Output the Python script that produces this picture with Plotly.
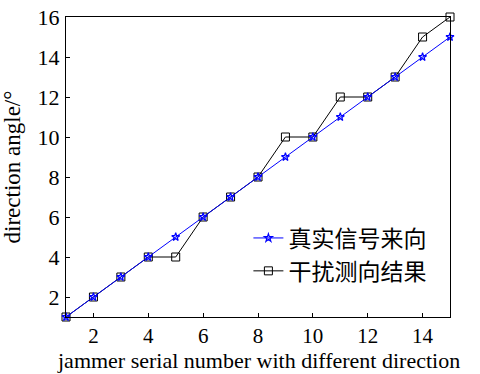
import plotly.graph_objects as go

jammer_idx = list(range(1, 16))
true_dir = [1, 2, 3, 4, 5, 6, 7, 8, 9, 10, 11, 12, 13, 14, 15]
measured_dir = [1, 2, 3, 4, 4, 6, 7, 8, 10, 10, 12, 12, 13, 15, 16]
x_ticks = [2, 4, 6, 8, 10, 12, 14]
y_ticks = [2, 4, 6, 8, 10, 12, 14, 16]
x_title = "jammer serial number with different direction"
y_title = "direction angle/°"

serif = "Liberation Serif, Times New Roman, Noto Sans CJK SC, serif"

fig = go.Figure()
fig.add_trace(go.Scatter(
    x=jammer_idx, y=measured_dir, mode="lines+markers", name="干扰测向结果",
    line=dict(color="black", width=1), cliponaxis=False,
    marker=dict(symbol="square-open", size=8, color="black", line=dict(width=1)),
))
fig.add_trace(go.Scatter(
    x=jammer_idx, y=true_dir, mode="lines+markers", name="真实信号来向",
    line=dict(color="#0000ff", width=1), cliponaxis=False,
    marker=dict(symbol="star-open", size=6, color="#0000ff", line=dict(width=1.2)),
))

axis_common = dict(
    showline=True, linecolor="black", linewidth=1, mirror=True,
    ticks="inside", ticklen=4, tickcolor="black", showgrid=False, zeroline=False,
    automargin=False,
)
fig.update_xaxes(range=[1, 15], tickvals=x_ticks, ticklabelstandoff=0,
                 tickfont=dict(family=serif, size=21, color="black"), **axis_common)
fig.update_yaxes(range=[1, 16], tickvals=y_ticks, ticklabelstandoff=1,
                 tickfont=dict(family=serif, size=22, color="black"),
                 title=dict(text=y_title,
                            font=dict(family=serif, size=23, color="black")),
                 **axis_common)

fig.add_annotation(
    text=x_title, xref="paper", yref="paper", x=0.5, y=-0.19,
    xanchor="center", yanchor="bottom", showarrow=False, borderpad=0,
    font=dict(family=serif, size=22, color="black"),
)

fig.update_layout(
    width=480, height=374,
    margin=dict(l=66, r=30, t=17, b=57),
    paper_bgcolor="white", plot_bgcolor="white",
    showlegend=True,
    legend=dict(x=0.475, y=0.335, xanchor="left", yanchor="top",
                traceorder="reversed", bgcolor="rgba(0,0,0,0)",
                font=dict(family="Noto Sans CJK SC", size=23, color="black"),
                itemwidth=30, tracegroupgap=0),
)
fig.write_html("out.html")
